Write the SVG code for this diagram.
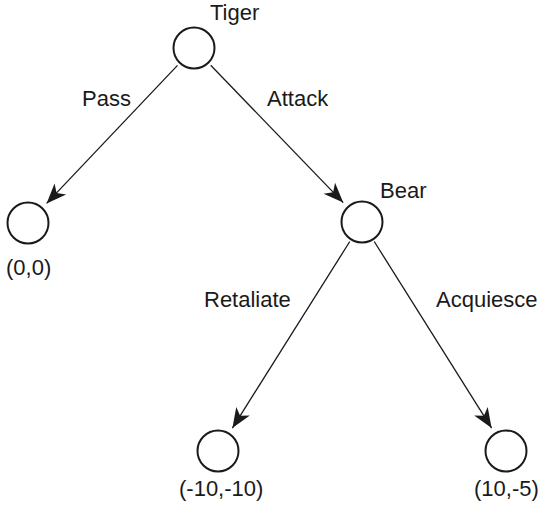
<svg xmlns="http://www.w3.org/2000/svg" width="540" height="508" viewBox="0 0 540 508">
  <style>
    .node { fill: none; stroke: #1a1a1a; stroke-width: 2; }
    .edge { stroke: #1a1a1a; stroke-width: 1.3; fill: none; marker-end: url(#arrow); }
    text { font-family: "Liberation Sans", Arial, sans-serif; font-size: 22px; fill: #1a1a1a; }
  </style>
  <defs>
    <marker id="arrow" markerUnits="userSpaceOnUse" viewBox="-21 -9 23 18" refX="0" refY="0" markerWidth="23" markerHeight="18" orient="auto">
      <path d="M0,0 L-20,-8 L-14.5,0 L-20,8 Z" fill="#1a1a1a"/>
    </marker>
  </defs>
  <rect width="540" height="508" fill="#ffffff"/>

  <g id="connectors">
    <line class="edge" x1="177.5" y1="65.4" x2="46.6" y2="203.4"/>
    <line class="edge" x1="210.7" y1="65.3" x2="343.2" y2="202.6"/>
    <line class="edge" x1="349.8" y1="241.5" x2="232.4" y2="428.1"/>
    <line class="edge" x1="374.2" y1="241.5" x2="491.6" y2="428.1"/>
    <text x="82" y="106">Pass</text>
    <text x="267" y="106">Attack</text>
    <text x="204" y="307">Retaliate</text>
    <text x="436" y="307">Acquiesce</text>
  </g>

  <g id="tiger">
    <circle class="node" cx="194" cy="48" r="20.5"/>
    <text x="210" y="20">Tiger</text>
  </g>
  <g id="pass-outcome">
    <circle class="node" cx="28" cy="223" r="20.5"/>
    <text x="6" y="275">(0,0)</text>
  </g>
  <g id="bear">
    <circle class="node" cx="362" cy="222" r="20.5"/>
    <text x="380" y="198">Bear</text>
  </g>
  <g id="retaliate-outcome">
    <circle class="node" cx="218" cy="451" r="20.5"/>
    <text x="179" y="496">(-10,-10)</text>
  </g>
  <g id="acquiesce-outcome">
    <circle class="node" cx="506" cy="451" r="20.5"/>
    <text x="474" y="496">(10,-5)</text>
  </g>
</svg>
